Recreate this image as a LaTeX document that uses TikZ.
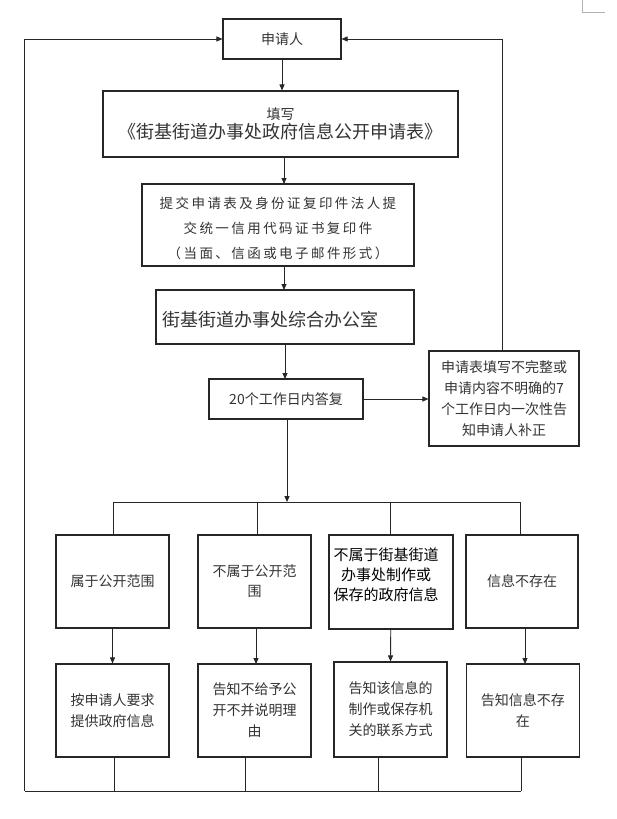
\documentclass[tikz,border=0pt]{standalone}
\usepackage{fontspec}
\setmainfont{Noto Sans CJK SC}
\usetikzlibrary{arrows.meta}
\begin{document}
\begin{tikzpicture}[x=1pt,y=-1pt,
  box/.style={draw=black!85, line width=1.1pt, inner sep=0pt, align=center, text=black!80},
  txt/.style={inner sep=0pt, align=center, text=black!80},
  conn/.style={draw=black!85, line width=0.9pt},
  arr/.style={conn, -{Triangle[length=6pt,width=5pt]}},
  fs/.style={font=\fontsize{14}{21}\selectfont}]
\useasboundingbox (0,0) rectangle (616,819);
\fill[white] (0,0) rectangle (616,819);
% page corner mark
\draw[gray!60, line width=0.6pt] (582,0) -- (582,12) -- (605,12);

% nodes
\node[box, fs, minimum width=118pt, minimum height=40pt] (app) at (282,39) {申请人};
\node[box, minimum width=355pt, minimum height=66pt] (fill) at (280.5,124)
  {{\fontsize{14}{18}\selectfont 填写}\\[2pt]{\fontsize{18}{22}\selectfont 《街基街道办事处政府信息公开申请表》}};
\node[box, minimum width=272pt, minimum height=82pt] (sub) at (278,225) {};
\node[txt, font={\fontsize{13.5}{25}\selectfont\addfontfeature{LetterSpace=18}}] (subt) at (278,228)
  {提交申请表及身份证复印件法人提\\交统一信用代码证书复印件\\（当面、信函或电子邮件形式）};
\node[box, minimum width=258pt, minimum height=54pt] (off) at (285,317) {};
\node[txt, anchor=west, font=\fontsize{18}{22}\selectfont] (offt) at (162,320) {街基街道办事处综合办公室};
\node[box, fs, minimum width=154pt, minimum height=40pt] (rep) at (286,399) {20个工作日内答复};
\node[box, fs, minimum width=150pt, minimum height=95pt] (notice) at (504,398.5)
  {申请表填写不完整或\\申请内容不明确的7\\个工作日内一次性告\\知申请人补正};

% top row
\node[box, fs, minimum width=113pt, minimum height=93pt] (t1) at (112.5,581.5) {属于公开范围};
\node[box, minimum width=113pt, minimum height=93pt, font=\fontsize{14}{20}\selectfont] (t2) at (254.5,581.5) {不属于公开范\\围};
\node[box, line width=2pt, minimum width=124pt, minimum height=94pt] (t3) at (390.75,582) {};
\node[txt, text=black, font=\fontsize{15}{20}\selectfont] (t3t) at (386,575)
  {不属于街基街道\\办事处制作或\\保存的政府信息};
\node[box, fs, minimum width=112pt, minimum height=93pt] (t4) at (522,581.5) {信息不存在};

% bottom row
\node[box, fs, minimum width=113pt, minimum height=93pt] (b1) at (112.5,710.5) {按申请人要求\\提供政府信息};
\node[box, fs, minimum width=113pt, minimum height=93pt] (b2) at (254.5,710.5) {告知不给予公\\开不并说明理\\由};
\node[box, fs, minimum width=113pt, minimum height=95pt] (b3) at (390.5,709.5) {告知该信息的\\制作或保存机\\关的联系方式};
\node[box, fs, minimum width=113pt, minimum height=93pt] (b4) at (522.75,710.5) {告知信息不存\\在};

% coordinates
\coordinate (split) at (287,502);
\coordinate (loopL) at (24.5,39);
\coordinate (loopLB) at (24.5,791);
\coordinate (loopR) at (502,39);
\coordinate (d1) at (113,502);
\coordinate (d2) at (257,502);
\coordinate (d3) at (390,502);
\coordinate (d4) at (520,502);
\coordinate (j1) at (114,791);
\coordinate (j2) at (245,791);
\coordinate (j3) at (378,791);
\coordinate (j4) at (521,791);

% main flow
\draw[arr] (app.south) -- (app.south |- fill.north);
\draw[arr] (284,157) -- (284,184);
\draw[arr] (284,266) -- (284,290);
\draw[arr] (285,344) -- (285,379);
\draw[arr] (rep.east) -- (notice.west |- rep.east);
\draw[arr] (split |- rep.south) -- (split);

% branches
\draw[conn] (d1) -- (d4);
\draw[conn] (d1) -- (d1 |- t1.north);
\draw[conn] (d2) -- (d2 |- t2.north);
\draw[conn] (d3) -- (d3 |- t3.north);
\draw[conn] (d4) -- (d4 |- t4.north);
\draw[arr] (t1.south) -- (b1.north);
\draw[arr] (256,628) -- (256,664);
\draw[arr] (t3.south) -- (b3.north);
\draw[arr] (525,628) -- (525,664);

% return loops
\foreach \j in {j1,j2,j3,j4} \draw[conn] (\j |- b1.south) -- (\j);
\draw[conn] (j4) -- (loopLB);
\draw[arr] (loopLB) -- (loopL) -- (app.west);
\draw[arr] (notice.north -| loopR) -- (loopR) -- (app.east);
\end{tikzpicture}
\end{document}
